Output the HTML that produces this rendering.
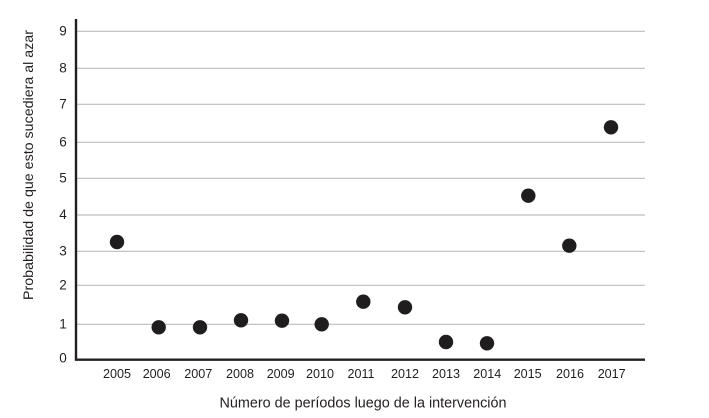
<!DOCTYPE html>
<html><head><meta charset="utf-8"><style>
html,body{margin:0;padding:0;background:#fff;}
svg{display:block;}
text{font-family:"Liberation Sans",sans-serif;fill:#231f20;}
</style></head><body>
<svg width="709" height="418" viewBox="0 0 709 418" xmlns="http://www.w3.org/2000/svg">
<g stroke="#bdbdbd" stroke-width="1.2">
<line x1="77" y1="31.3" x2="645" y2="31.3"/>
<line x1="77" y1="68.3" x2="645" y2="68.3"/>
<line x1="77" y1="104.3" x2="645" y2="104.3"/>
<line x1="77" y1="142.3" x2="645" y2="142.3"/>
<line x1="77" y1="178.3" x2="645" y2="178.3"/>
<line x1="77" y1="215" x2="645" y2="215"/>
<line x1="77" y1="251.3" x2="645" y2="251.3"/>
<line x1="77" y1="285.3" x2="645" y2="285.3"/>
<line x1="77" y1="324.3" x2="645" y2="324.3"/>
</g>
<line x1="76" y1="19" x2="76" y2="360.5" stroke="#231f20" stroke-width="2.4"/>
<line x1="75" y1="359.7" x2="645" y2="359.7" stroke="#231f20" stroke-width="2.4"/>
<g font-size="13.5" text-anchor="middle">
<text x="63" y="35.5">9</text>
<text x="63" y="72.5">8</text>
<text x="63" y="108.5">7</text>
<text x="63" y="146.5">6</text>
<text x="63" y="182.5">5</text>
<text x="63" y="219">4</text>
<text x="63" y="255.5">3</text>
<text x="63" y="289.5">2</text>
<text x="63" y="328.5">1</text>
<text x="63" y="362.5">0</text>
</g>
<g font-size="13" text-anchor="middle">
<text x="117" y="378" textLength="28" lengthAdjust="spacingAndGlyphs">2005</text>
<text x="156.7" y="378" textLength="28" lengthAdjust="spacingAndGlyphs">2006</text>
<text x="198.3" y="378" textLength="28" lengthAdjust="spacingAndGlyphs">2007</text>
<text x="240" y="378" textLength="28" lengthAdjust="spacingAndGlyphs">2008</text>
<text x="280.7" y="378" textLength="28" lengthAdjust="spacingAndGlyphs">2009</text>
<text x="320" y="378" textLength="28" lengthAdjust="spacingAndGlyphs">2010</text>
<text x="361" y="378" textLength="27" lengthAdjust="spacingAndGlyphs">2011</text>
<text x="405" y="378" textLength="28" lengthAdjust="spacingAndGlyphs">2012</text>
<text x="446" y="378" textLength="28" lengthAdjust="spacingAndGlyphs">2013</text>
<text x="487.3" y="378" textLength="28" lengthAdjust="spacingAndGlyphs">2014</text>
<text x="527.7" y="378" textLength="28" lengthAdjust="spacingAndGlyphs">2015</text>
<text x="570" y="378" textLength="28" lengthAdjust="spacingAndGlyphs">2016</text>
<text x="611.7" y="378" textLength="28" lengthAdjust="spacingAndGlyphs">2017</text>
</g>
<text x="363" y="407.5" font-size="14.5" text-anchor="middle" textLength="287" lengthAdjust="spacingAndGlyphs">Número de períodos luego de la intervención</text>
<text transform="translate(33,165) rotate(-90)" x="0" y="0" font-size="13.5" text-anchor="middle" textLength="270" lengthAdjust="spacingAndGlyphs">Probabilidad de que esto sucediera al azar</text>
<g fill="#1f1d1e">
<circle cx="117" cy="242" r="7.2"/>
<circle cx="158.7" cy="327.3" r="7.2"/>
<circle cx="200" cy="327.3" r="7.2"/>
<circle cx="241" cy="320.3" r="7.2"/>
<circle cx="282" cy="320.7" r="7.2"/>
<circle cx="321.7" cy="324.3" r="7.2"/>
<circle cx="363.3" cy="301.7" r="7.2"/>
<circle cx="405" cy="307.3" r="7.2"/>
<circle cx="446" cy="342" r="7.2"/>
<circle cx="487" cy="343.3" r="7.2"/>
<circle cx="528.3" cy="195.7" r="7.2"/>
<circle cx="569.3" cy="245.7" r="7.2"/>
<circle cx="611" cy="127.3" r="7.2"/>
</g>
</svg>
</body></html>
